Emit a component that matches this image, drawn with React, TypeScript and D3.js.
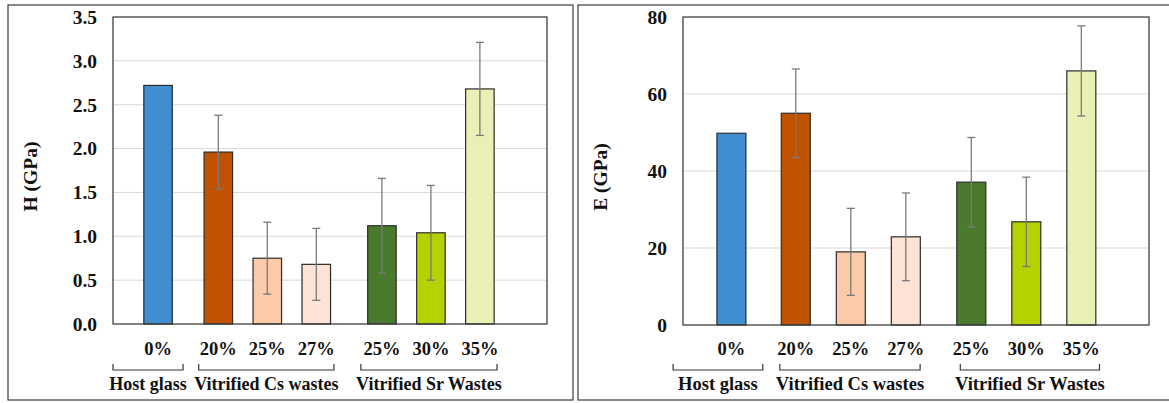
import React from 'react';
import * as d3 from 'd3';

// sample labels and groups (same for both panels)
const categories = ['0%', '20%', '25%', '27%', '25%', '30%', '35%'];
const groupOf = [0, 1, 1, 1, 2, 2, 2];
const groups = ['Host glass', 'Vitrified Cs wastes', 'Vitrified Sr Wastes'];
const barColors = ['#3F8FD0', '#C05200', '#FBCBA9', '#FDE3D5', '#4A7A2E', '#B5D200', '#EAEFB6'];

// hardness H (GPa)
const hValues = [2.72, 1.96, 0.75, 0.68, 1.12, 1.04, 2.68];
const hErrors = [0, 0.42, 0.41, 0.41, 0.54, 0.54, 0.53];
const hTicks = [0, 0.5, 1.0, 1.5, 2.0, 2.5, 3.0, 3.5];

// elastic modulus E (GPa)
const eValues = [49.8, 55.0, 19.0, 22.9, 37.1, 26.8, 66.0];
const eErrors = [0, 11.5, 11.3, 11.4, 11.6, 11.6, 11.7];
const eTicks = [0, 20, 40, 60, 80];

const FONT = 'Liberation Serif, Times New Roman, DejaVu Serif, serif';

type PanelProps = {
  frame: [number, number, number, number];
  plot: { left: number; right: number; top: number; bottom: number };
  values: number[];
  errors: number[];
  ticks: number[];
  tickFormat: (v: number) => string;
  yMax: number;
  title: string;
  titleX: number;
  // x layout in slot units
  groupGap: number[];
  xDomain: [number, number];
  barWidth: number;
  bracketPad: [number, number][];
  groupFont: number;
};

const txt = { fontFamily: FONT, fontWeight: 700, fill: '#111' } as const;

const Panel = (p: PanelProps) => {
  const { plot } = p;
  const pos = categories.map((_, i) => i + p.groupGap[groupOf[i]]);
  const x = d3.scaleLinear().domain(p.xDomain).range([plot.left, plot.right]);
  const y = d3.scaleLinear().domain([0, p.yMax]).range([plot.bottom, plot.top]);
  const [fx, fy, fw, fh] = p.frame;

  return (
    <g>
      <rect x={fx} y={fy} width={fw} height={fh} fill="#fff" stroke="#3a3a3a" strokeWidth={1.2} />
      {/* gridlines */}
      {p.ticks.filter(t => t > 0 && t < p.yMax).map(t => (
        <line key={t} x1={plot.left} x2={plot.right} y1={y(t)} y2={y(t)} stroke="#d9d9d9" strokeWidth={1} />
      ))}
      {/* bars */}
      {p.values.map((v, i) => (
        <rect key={i} x={x(pos[i]) - p.barWidth / 2} y={y(v)} width={p.barWidth} height={y(0) - y(v)}
          fill={barColors[i]} stroke="#2b2b2b" strokeWidth={1.2} />
      ))}
      {/* error bars */}
      {p.errors.map((e, i) => e > 0 && (
        <g key={i} stroke="#7a7a7a" strokeWidth={1.3}>
          <line x1={x(pos[i])} x2={x(pos[i])} y1={y(p.values[i] + e)} y2={y(p.values[i] - e)} />
          <line x1={x(pos[i]) - 4} x2={x(pos[i]) + 4} y1={y(p.values[i] + e)} y2={y(p.values[i] + e)} />
          <line x1={x(pos[i]) - 4} x2={x(pos[i]) + 4} y1={y(p.values[i] - e)} y2={y(p.values[i] - e)} />
        </g>
      ))}
      {/* plot border */}
      <rect x={plot.left} y={plot.top} width={plot.right - plot.left} height={plot.bottom - plot.top}
        fill="none" stroke="#404040" strokeWidth={1.3} />
      {/* y tick labels */}
      {p.ticks.map(t => (
        <text key={t} x={plot.left - 16} y={y(t)} dy="0.35em" textAnchor="end"
          style={{ ...txt, fontSize: 19.5 }}>{p.tickFormat(t)}</text>
      ))}
      <text transform={`translate(${p.titleX},${(plot.top + plot.bottom) / 2 + 6}) rotate(-90)`} textAnchor="middle"
        dy="0.35em" style={{ ...txt, fontSize: 19.5 }}>{p.title}</text>
      {/* category labels */}
      {categories.map((c, i) => (
        <text key={i} x={x(pos[i])} y={355} textAnchor="middle"
          style={{ ...txt, fontSize: 18.5 }}>{c}</text>
      ))}
      {/* group brackets */}
      {groups.map((g, gi) => {
        const idx = groupOf.map((o, i) => (o === gi ? i : -1)).filter(i => i >= 0);
        const x0 = x(pos[idx[0]] + p.bracketPad[gi][0]);
        const x1 = x(pos[idx[idx.length - 1]] + p.bracketPad[gi][1]);
        return (
          <g key={g}>
            <path d={`M${x0},364V370H${x1}V364`} fill="none" stroke="#333" strokeWidth={1.2} />
            <text x={(x0 + x1) / 2} y={390} textAnchor="middle"
              style={{ ...txt, fontSize: p.groupFont }}>{g}</text>
          </g>
        );
      })}
    </g>
  );
};

export default function App() {
  return (
    <svg width={1169} height={403} style={{ display: 'block', position: 'absolute', left: 0, top: 0 }}>
      <rect x={0} y={0} width={1169} height={403} fill="#fff" />
      <Panel
        frame={[8, 5, 565, 395]}
        plot={{ left: 113, right: 547, top: 17, bottom: 324 }}
        values={hValues}
        errors={hErrors}
        ticks={hTicks}
        tickFormat={d3.format('.1f')}
        yMax={3.5}
        title="H (GPa)"
        titleX={30}
        groupGap={[0, 0.23, 0.57]}
        xDomain={[-0.92, 7.94]}
        barWidth={28.5}
        bracketPad={[[-0.92, 0.51], [-0.4, 0.36], [-0.43, 0.35]]}
        groupFont={18}
      />
      <Panel
        frame={[578, 5, 600, 395]}
        plot={{ left: 683, right: 1149, top: 17, bottom: 325 }}
        values={eValues}
        errors={eErrors}
        ticks={eTicks}
        tickFormat={d3.format('d')}
        yMax={80}
        title="E (GPa)"
        titleX={600}
        groupGap={[0, 0.17, 0.36]}
        xDomain={[-0.88, 7.59]}
        barWidth={29}
        bracketPad={[[-1.06, 0.57], [-0.29, 0.26], [-0.2, 0.33]]}
        groupFont={18.5}
      />
    </svg>
  );
}
